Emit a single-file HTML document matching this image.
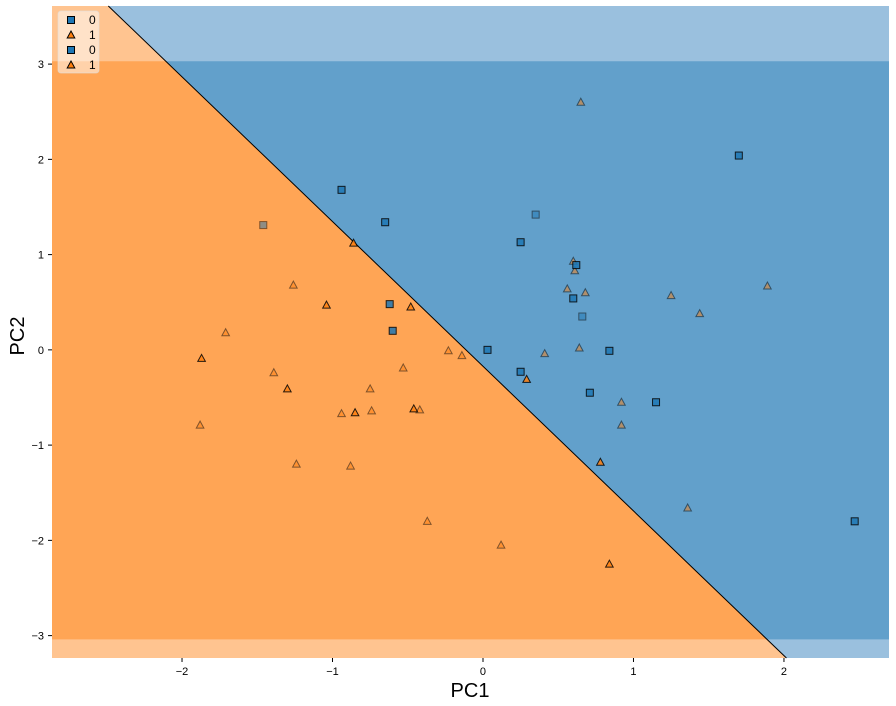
<!DOCTYPE html>
<html><head><meta charset="utf-8"><style>html,body{margin:0;background:#fff;width:896px;height:706px;overflow:hidden}svg{display:block;overflow:visible;font-family:"Liberation Sans","DejaVu Sans",sans-serif}</style></head>
<body>
<svg id="c" width="896" height="706"></svg>
<script>
const xTicks=[-2,-1,0,1,2];
const yTicks=[-3,-2,-1,0,1,2,3];
const sq0x=[-0.94,-0.65,0.25,1.70,0.62,0.60,-0.62,-0.60,0.03,0.84,0.25,0.71,1.15,2.47];
const sq0y=[1.68,1.34,1.13,2.04,0.89,0.54,0.48,0.20,0.0,-0.01,-0.23,-0.45,-0.55,-1.80];
const sq1x=[-1.46,0.35,0.66];
const sq1y=[1.31,1.42,0.35];
const tr0x=[-0.86,-1.04,-0.48,-1.87,-1.30,-0.85,-0.46,0.29,0.78,0.84];
const tr0y=[1.12,0.47,0.45,-0.09,-0.41,-0.66,-0.62,-0.31,-1.18,-2.25];
const tr1x=[0.65,-1.26,-1.71,-1.39,-0.75,-0.94,-0.74,-0.42,-1.24,-0.88,-1.88,-0.37,0.12,-0.14,-0.23,-0.53,0.41,0.56,0.61,0.68,0.64,0.92,0.92,1.25,1.44,1.89,1.36,0.60];
const tr1y=[2.60,0.68,0.18,-0.24,-0.41,-0.67,-0.64,-0.63,-1.20,-1.22,-0.79,-1.80,-2.05,-0.06,-0.01,-0.19,-0.04,0.64,0.83,0.60,0.02,-0.55,-0.79,0.57,0.38,0.67,-1.66,0.93];
const boundSlope=-1.519, boundIntercept=-0.172;
const gridYMin=-3.04, gridYMax=3.03;
const X0=-2.864,X1=2.698,Y0=-3.235,Y1=3.61;
const L=52,R=889,T=6,B=658;
const sx=v=>L+(v-X0)/(X1-X0)*(R-L);
const sy=v=>B-(v-Y0)/(Y1-Y0)*(B-T);
const svg=document.getElementById('c');
const NS='http://www.w3.org/2000/svg';
function mk(t,a,p){const e=document.createElementNS(NS,t);for(const k in a)e.setAttribute(k,a[k]);(p||svg).appendChild(e);return e;}
const bx=y=>(y-boundIntercept)/boundSlope;
const g=mk('g',{});

function regions(y0,y1,co,cb,name){
  const xa=sx(bx(y1)),xb=sx(bx(y0)),ya=sy(y1),yb=sy(y0);
  let p=mk('polygon',{points:`${L},${ya} ${xa},${ya} ${xb},${yb} ${L},${yb}`,fill:co},g);
  
  p=mk('polygon',{points:`${xa},${ya} ${R},${ya} ${R},${yb} ${xb},${yb}`,fill:cb},g);
  
}
regions(Y0,Y1,'#ffc490','#9ac0de','outer');
regions(gridYMin,gridYMax,'#ffa555','#62a0cb','inner');
const bl=mk('line',{x1:sx(bx(Y1)),y1:sy(Y1),x2:sx(bx(Y0)),y2:sy(Y0),stroke:'#000','stroke-width':1},g);

function square(x,y,op,p){const e=mk('rect',{x:x-3.5,y:y-3.5,width:7,height:7,fill:'#1f77b4',stroke:'#000','stroke-width':1,opacity:op},p);return e;}
function tri(x,y,op,p){const e=mk('polygon',{points:`${x},${y-4} ${x+3.8},${y+3} ${x-3.8},${y+3}`,fill:'#ff7f0e',stroke:'#000','stroke-width':1,opacity:op},p);return e;}
sq1x.forEach((v,i)=>{const e=square(sx(v),sy(sq1y[i]),0.5,g);});
tr1x.forEach((v,i)=>{const e=tri(sx(v),sy(tr1y[i]),0.5,g);});
sq0x.forEach((v,i)=>{const e=square(sx(v),sy(sq0y[i]),0.85,g);});
tr0x.forEach((v,i)=>{const e=tri(sx(v),sy(tr0y[i]),0.85,g);});
xTicks.forEach(t=>{const x=sx(t);mk('line',{x1:x,y1:B,x2:x,y2:B+4,stroke:'#000'});
  const e=mk('text',{x:x,y:B+17,'font-size':11,'text-anchor':'middle'});e.textContent=t<0?'\u2212'+(-t):t;
  });
yTicks.forEach(t=>{const y=sy(t);mk('line',{x1:L-4,y1:y,x2:L,y2:y,stroke:'#000'});
  const e=mk('text',{x:L-8,y:y+4,'font-size':11,'text-anchor':'end'});e.textContent=t<0?'\u2212'+(-t):t;
  });
let e=mk('text',{x:470,y:697,'font-size':20,'text-anchor':'middle'});e.textContent='PC1';

e=mk('text',{x:24,y:336,'font-size':20,'text-anchor':'middle',transform:'rotate(-90 24 336)'});e.textContent='PC2';

const lg=mk('g',{});
mk('rect',{x:58,y:11,width:41,height:62,rx:3,fill:'#fff','fill-opacity':0.5,stroke:'#ddd','stroke-opacity':0.6},lg);
const labs=['0','1','0','1'];
labs.forEach((l,i)=>{const y=20+i*15;const m=i%2==0?square(71,y,1,lg):tri(71,y,1,lg);
  const t=mk('text',{x:89,y:y+4,'font-size':12},lg);t.textContent=l;
  });
</script>
</body></html>
